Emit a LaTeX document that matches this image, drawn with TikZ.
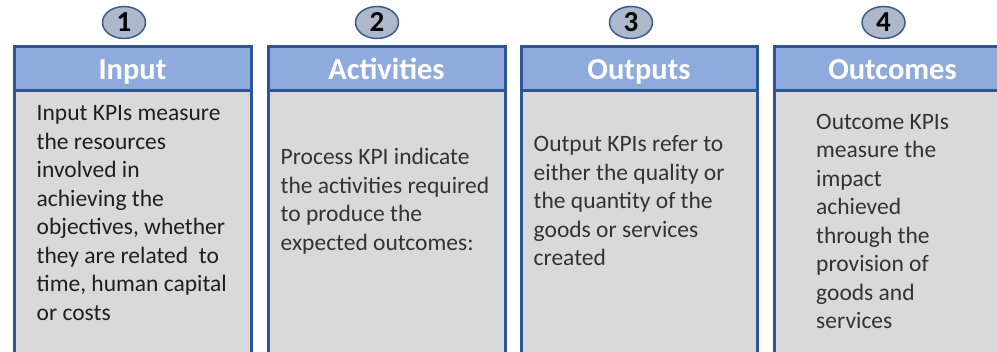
\documentclass[tikz,border=0pt]{standalone}
\usepackage{fontspec}
\setmainfont{Carlito}
\usetikzlibrary{shapes.geometric}
\definecolor{bordblue}{HTML}{2F5597}
\definecolor{headfill}{HTML}{8FAADC}
\definecolor{bodyfill}{HTML}{D9D9D9}
\definecolor{circfill}{HTML}{ADB9CA}
\definecolor{circbord}{HTML}{3E5A8A}
\definecolor{bodytext}{HTML}{333333}
\tikzset{
  bodybox/.style={fill=bodyfill, draw=bordblue, line width=3pt},
  headbox/.style={fill=headfill, draw=bordblue, line width=3pt},
  headtext/.style={anchor=base, text=white, inner sep=0pt, font=\fontsize{30.5}{36}\selectfont\bfseries},
  numcirc/.style={ellipse, fill=circfill, draw=circbord, line width=1.5pt, minimum width=43pt, minimum height=32pt, inner sep=0pt},
  numtext/.style={anchor=base, inner sep=0pt, text=black, font=\fontsize{29}{32}\selectfont\bfseries},
  bodytxt/.style={anchor=base west, inner sep=0pt, text=bodytext, font=\fontsize{23.5}{28.5}\selectfont}
}
\begin{document}
\begin{tikzpicture}[x=1pt,y=-1pt]
\useasboundingbox (0,0) rectangle (997,352);
\clip (0,0) rectangle (997,352);
% boxes
\foreach \l/\r in {14/251, 268/505, 521/757, 774/1011}{
  \draw[bodybox] (\l,91) rectangle (\r,370);
  \draw[headbox] (\l,47) rectangle (\r,91);
}
% header texts
\node[headtext] (h1) at (132.5,79.5) {Input};
\node[headtext] (h2) at (386.5,79.5) {Activities};
\node[headtext] (h3) at (639,79.5) {Outputs};
\node[headtext] (h4) at (892.5,79.5) {Outcomes};
% number circles
\node[numcirc] (c1) at (124,22.5) {};
\node[numcirc] (c2) at (377,22.5) {};
\node[numcirc] (c3) at (631,22.5) {};
\node[numcirc] (c4) at (883.5,22.5) {};
\node[numtext] (n1) at (124,32) {1};
\node[numtext] (n2) at (377,32) {2};
\node[numtext] (n3) at (631,32) {3};
\node[numtext] (n4) at (883.5,32) {4};
% body texts
\node[bodytxt, text=black!88] (t1) at (36.5,120.7) {\vtop{\hbox{Input KPIs measure}\hbox{the resources}\hbox{involved in}\hbox{achieving the}\hbox{objectives, whether}\hbox{they are related~ to}\hbox{time, human capital}\hbox{or costs}}};
\node[bodytxt] (t2) at (280.5,165) {\vtop{\hbox{Process KPI indicate}\hbox{the activities required}\hbox{to produce the}\hbox{expected outcomes:}}};
\node[bodytxt] (t3) at (533.5,151.7) {\vtop{\hbox{Output KPIs refer to}\hbox{either the quality or}\hbox{the quantity of the}\hbox{goods or services}\hbox{created}}};
\node[bodytxt] (t4) at (816,129.3) {\vtop{\hbox{Outcome KPIs}\hbox{measure the}\hbox{impact}\hbox{achieved}\hbox{through the}\hbox{provision of}\hbox{goods and}\hbox{services}}};
\end{tikzpicture}
\end{document}
